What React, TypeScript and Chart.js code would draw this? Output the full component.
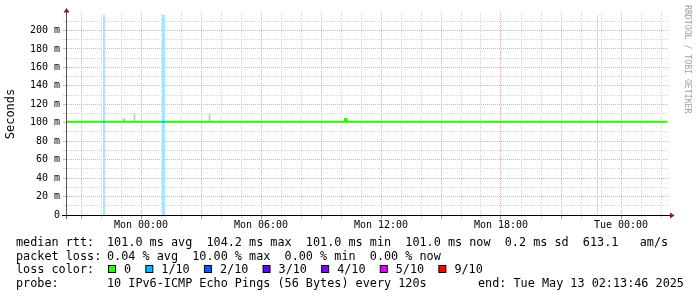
import React, { useEffect, useRef } from 'react';
import { Chart, registerables } from 'chart.js';

Chart.register(...registerables);

// ---- data ----
const X_SPAN_HOURS = 30; // graph covers 30 h (Sun 20:18 .. Tue 02:18)
const Y_MAX = 219; // ms
const xGridHours = [0.7, 1.7, 2.7, 3.7, 4.7, 5.7, 6.7, 7.7, 8.7, 9.7, 10.7, 11.7, 12.7, 13.7, 14.7, 15.7, 16.7, 17.7, 18.7, 19.7, 20.7, 21.7, 22.7, 23.7, 24.7, 25.7, 26.7, 27.7, 28.7, 29.7];
const xMajorHours = [0.7, 3.7, 6.7, 9.7, 12.7, 15.7, 18.7, 21.7, 24.7, 27.7];
const xLabelHours = [3.7, 9.7, 15.7, 21.7, 27.7];
const xLabels = ['Mon 00:00', 'Mon 06:00', 'Mon 12:00', 'Mon 18:00', 'Tue 00:00'];
const yGridValues = [0, 10, 20, 30, 40, 50, 60, 70, 80, 90, 100, 110, 120, 130, 140, 150, 160, 170, 180, 190, 200, 210];
const yLabelValues = [0, 20, 40, 60, 80, 100, 120, 140, 160, 180, 200];
const yLabels = ['0', '20 m', '40 m', '60 m', '80 m', '100 m', '120 m', '140 m', '160 m', '180 m', '200 m'];

// median rtt (ms) and loss count (of 10 pings) for the segment starting at each point
const medianHours = [0, 1.8, 1.9, 4.75, 4.9, 13.9, 13.9, 13.95, 13.95, 26.5, 26.55, 30];
const medianMs = [101, 101, 101, 101, 101, 101, 104.2, 104.2, 101, 101, 101, 101];
const medianLoss = [0, 1, 0, 1, 0, 0, 0, 0, 0, 1, 0, 0];

// loss background periods
const lossStart = [1.8, 4.75, 26.5];
const lossEnd = [1.9, 4.9, 26.55];
const lossCount = [1, 1, 1];
const LOSS_BG_MS = 217;

// smoke (ping spread) spikes
const smokeHours = [2.825, 2.875, 3.375, 7.125, 13.975];
const smokeLow = [101, 101, 101, 101, 101];
const smokeHigh = [104.5, 104.5, 109, 109, 104.2];

// legend
const lossLegendLabels = ['0', '1/10', '2/10', '3/10', '4/10', '5/10', '9/10'];
const lossLegendLevels = [0, 1, 2, 3, 4, 5, 9];
const legendRtt = 'median rtt:';
const legendRttText = '101.0 ms avg  104.2 ms max  101.0 ms min  101.0 ms now  0.2 ms sd  613.1   am/s';
const legendLoss = 'packet loss:';
const legendLossText = '0.04 % avg  10.00 % max  0.00 % min  0.00 % now';
const legendColor = 'loss color:';
const legendProbe = 'probe:';
const legendProbeText = '10 IPv6-ICMP Echo Pings (56 Bytes) every 120s';
const legendEnd = 'end: Tue May 13 02:13:46 2025';
const watermark = 'RRDTOOL / TOBI OETIKER';

// ---- styles ----
const MONO = '"DejaVu Sans Mono", monospace';
const GRID = '#d4d4d4';
const MGRID = '#f2a8a8';
const LOSS_COLORS: Record<number, string> = {
  0: '#26ff00', 1: '#00b8ff', 2: '#0059ff', 3: '#5e00ff', 4: '#7e00ff', 5: '#dd00ff', 9: '#ff0000',
};
const LOSS_BG: Record<number, string> = {
  1: '#a6e6ff', 2: '#a6c5ff', 3: '#c9a6ff', 4: '#d4a6ff', 5: '#f2a6ff', 9: '#ffa6a6',
};
const smokeColors = ['#c4c4c4', '#c4c4c4', '#c4c4c4', '#c4c4c4', '#1c3a1c'];

const near = (a: number, list: number[]) => list.some((v) => Math.abs(v - a) < 1e-6);

// dotted grid drawn through the chart's own scales
const gridPlugin = {
  id: 'rrdgrid',
  beforeDatasetsDraw(chart: any) {
    const ctx: CanvasRenderingContext2D = chart.ctx;
    const { left, right, top, bottom } = chart.chartArea;
    const xs = chart.scales.x;
    const ys = chart.scales.y;
    ctx.save();
    yGridValues.forEach((v) => {
      if (v === 0) return;
      const row = Math.round(ys.getPixelForValue(v) - 0.5);
      ctx.fillStyle = v % 20 === 0 ? MGRID : GRID;
      ctx.fillRect(left - 4, row, 3, 1);
      for (let x = left; x < right + 1; x += 2) ctx.fillRect(x, row, 1, 1);
    });
    xGridHours.forEach((h) => {
      const col = Math.round(xs.getPixelForValue(h) - 0.5);
      const major = near(h, xMajorHours);
      ctx.fillStyle = major ? MGRID : GRID;
      for (let y = top; y < bottom; y += 2) ctx.fillRect(col, y, 1, 1);
      ctx.fillStyle = major ? '#c08888' : GRID;
      ctx.fillRect(col, bottom + 1, 1, major ? 3 : 2);
    });
    ctx.restore();
  },
};

const decorPlugin = {
  id: 'decor',
  afterDraw(chart: any) {
    const ctx: CanvasRenderingContext2D = chart.ctx;
    const { left, right, top, bottom } = chart.chartArea;
    ctx.save();
    // axes
    ctx.lineWidth = 1;
    ctx.strokeStyle = '#555555';
    ctx.beginPath();
    ctx.moveTo(left - 0.5, bottom + 4);
    ctx.lineTo(left - 0.5, top - 2);
    ctx.stroke();
    ctx.strokeStyle = '#000000';
    ctx.beginPath();
    ctx.moveTo(left - 5, bottom + 0.5);
    ctx.lineTo(right + 3, bottom + 0.5);
    ctx.stroke();
    // arrows
    ctx.fillStyle = '#8b1a1a';
    ctx.beginPath();
    ctx.moveTo(left - 3.5, top - 0.5);
    ctx.lineTo(left + 2.5, top - 0.5);
    ctx.lineTo(left - 0.5, top - 5);
    ctx.closePath();
    ctx.fill();
    ctx.beginPath();
    ctx.moveTo(right + 3, bottom - 2.5);
    ctx.lineTo(right + 3, bottom + 3.5);
    ctx.lineTo(right + 7.5, bottom + 0.5);
    ctx.closePath();
    ctx.fill();

    // watermark
    ctx.save();
    ctx.translate(685, 5);
    ctx.rotate(Math.PI / 2);
    ctx.font = `8.2px ${MONO}`;
    ctx.fillStyle = '#a0a0a0';
    ctx.textBaseline = 'alphabetic';
    ctx.fillText(watermark, 0, 0);
    ctx.restore();

    // legend text
    ctx.font = `11.8px ${MONO}`;
    ctx.fillStyle = '#000000';
    ctx.textBaseline = 'alphabetic';
    const c1 = 16;
    const c2 = 107;
    const rows = [245.5, 259.5, 273, 287];
    ctx.fillText(legendRtt, c1, rows[0]);
    ctx.fillText(legendRttText, c2, rows[0]);
    ctx.fillText(legendLoss, c1, rows[1]);
    ctx.fillText(legendLossText, c2, rows[1]);
    ctx.fillText(legendColor, c1, rows[2]);
    let x = c2 + 1;
    const space = ctx.measureText(' ').width;
    lossLegendLabels.forEach((lab, i) => {
      ctx.fillStyle = LOSS_COLORS[lossLegendLevels[i]];
      ctx.fillRect(x + 0.5, rows[2] - 7.5, 7, 7);
      ctx.strokeStyle = '#000000';
      ctx.strokeRect(x + 0.5, rows[2] - 7.5, 7, 7);
      ctx.fillStyle = '#000000';
      const tx = x + 16;
      ctx.fillText(lab, tx, rows[2]);
      x = tx + ctx.measureText(lab).width + 2 * space;
    });
    ctx.fillText(legendProbe, c1, rows[3]);
    ctx.fillText(legendProbeText, c2, rows[3]);
    ctx.fillText(legendEnd, 478, rows[3]);
    ctx.restore();
  },
};

export default function App() {
  const ref = useRef<HTMLCanvasElement | null>(null);
  useEffect(() => {
    if (!ref.current) return;
    const lossDatasets = lossStart.map((s, i) => ({
      type: 'line' as const,
      data: [
        { x: s, y: LOSS_BG_MS },
        { x: lossEnd[i], y: LOSS_BG_MS },
      ],
      fill: 'origin',
      backgroundColor: LOSS_BG[lossCount[i]],
      borderWidth: 0,
      pointRadius: 0,
      order: 3,
    }));
    const chart = new Chart(ref.current, {
      type: 'bar',
      data: {
        datasets: [
          ...lossDatasets,
          {
            type: 'bar' as const,
            data: smokeHours.map((h, i) => ({ x: h, y: [smokeLow[i], smokeHigh[i]] })) as any,
            backgroundColor: smokeColors,
            borderWidth: 0,
            barThickness: 1,
            order: 2,
          },
          {
            type: 'line' as const,
            data: medianHours.map((h, i) => ({ x: h, y: medianMs[i] })),
            borderColor: LOSS_COLORS[0],
            borderWidth: 2,
            pointRadius: 0,
            tension: 0,
            fill: false,
            segment: {
              borderColor: (c: any) => LOSS_COLORS[medianLoss[c.p0DataIndex]] || LOSS_COLORS[0],
            },
            order: 1,
          },
        ] as any,
      },
      options: {
        responsive: false,
        animation: false,
        events: [],
        layout: { padding: { top: 13, right: 30, bottom: 0, left: 0 } },
        plugins: { legend: { display: false }, tooltip: { enabled: false }, title: { display: false } },
        scales: {
          x: {
            type: 'linear',
            min: 0,
            max: X_SPAN_HOURS,
            offset: false,
            afterBuildTicks: (s: any) => {
              s.ticks = xGridHours.map((v) => ({ value: v }));
            },
            afterFit: (s: any) => {
              s.height = 82;
            },
            grid: {
              offset: false,
              color: 'rgba(0,0,0,0)',
              tickColor: 'rgba(0,0,0,0)',
              tickLength: 3,
            },
            border: { display: false },
            ticks: {
              autoSkip: false,
              maxRotation: 0,
              minRotation: 0,
              padding: 1,
              color: '#000000',
              font: { family: MONO, size: 10 },
              callback: (v: any) => {
                const i = xLabelHours.findIndex((h) => Math.abs(h - Number(v)) < 1e-6);
                return i >= 0 ? xLabels[i] : '';
              },
            },
          },
          y: {
            type: 'linear',
            min: 0,
            max: Y_MAX,
            afterBuildTicks: (s: any) => {
              s.ticks = yGridValues.map((v) => ({ value: v }));
            },
            afterFit: (s: any) => {
              s.width = 67;
            },
            grid: {
              color: 'rgba(0,0,0,0)',
              tickColor: 'rgba(0,0,0,0)',
              tickLength: 3,
            },
            border: { display: false },
            ticks: {
              padding: 4,
              color: '#000000',
              font: { family: MONO, size: 10 },
              callback: (v: any) => {
                const i = yLabelValues.indexOf(Number(v));
                return i >= 0 ? yLabels[i] : '';
              },
            },
            title: {
              display: true,
              text: 'Seconds',
              color: '#000000',
              font: { family: MONO, size: 12 },
              padding: { top: 4, bottom: 0 },
            },
          },
        },
      } as any,
      plugins: [gridPlugin, decorPlugin],
    });
    return () => chart.destroy();
  }, []);

  return (
    <div style={{ position: 'fixed', left: 0, top: 0, width: 697, height: 297, background: '#ffffff' }}>
      <canvas ref={ref} width={697} height={297} style={{ display: 'block' }} />
    </div>
  );
}
